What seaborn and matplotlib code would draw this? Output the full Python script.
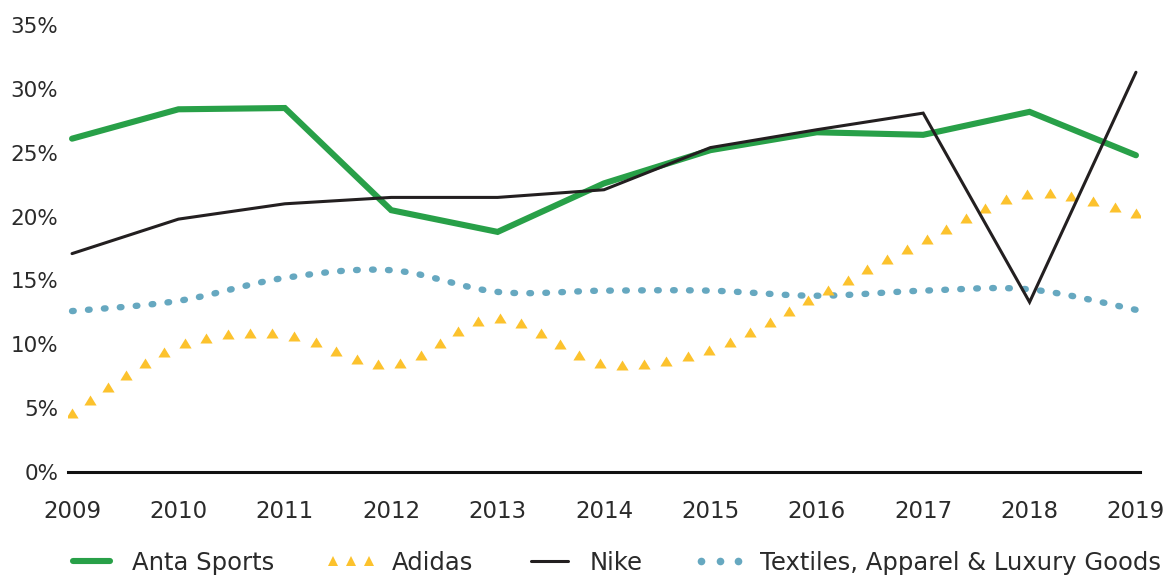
import numpy as np
import pandas as pd
import matplotlib
matplotlib.use("Agg")
import matplotlib.pyplot as plt
import seaborn as sns
from matplotlib.patheffects import AbstractPathEffect
from matplotlib.path import Path
from matplotlib.transforms import Affine2D
from matplotlib.markers import MarkerStyle
from matplotlib.lines import Line2D
from matplotlib.colors import to_rgba

# ---------------- data ----------------
years = [2009, 2010, 2011, 2012, 2013, 2014, 2015, 2016, 2017, 2018, 2019]
anta = [26.1, 28.4, 28.5, 20.5, 18.8, 22.6, 25.2, 26.6, 26.4, 28.2, 24.8]
adidas = [4.6, 9.9, 10.8, 8.4, 12.1, 8.5, 9.6, 13.8, 18.1, 21.8, 20.3]
nike = [17.1, 19.8, 21.0, 21.5, 21.5, 22.1, 25.4, 26.8, 28.1, 13.3, 31.3]
textiles = [12.6, 13.4, 15.2, 15.8, 14.1, 14.2, 14.2, 13.8, 14.2, 14.3, 12.7]
series_names = ["Anta Sports", "Adidas", "Nike", "Textiles, Apparel & Luxury Goods"]
y_ticks = [0, 5, 10, 15, 20, 25, 30, 35]

GREEN = "#28a048"
YELLOW = "#fcc22d"
BLACK = "#231f20"
BLUE = "#66a8c0"
TEXT = "#2a2a2a"


def catmull_rom(pts, n=30):
    P = np.vstack([pts[0], pts, pts[-1]])
    out = []
    t = np.linspace(0, 1, n, endpoint=False)[:, None]
    for i in range(1, len(P) - 2):
        p0, p1, p2, p3 = P[i - 1], P[i], P[i + 1], P[i + 2]
        a = 2 * p1
        b = p2 - p0
        c = 2 * p0 - 5 * p1 + 4 * p2 - p3
        d = -p0 + 3 * p1 - 3 * p2 + p3
        out.append(0.5 * (a + b * t + c * t ** 2 + d * t ** 3))
    out.append(P[-2][None])
    return np.vstack(out)


class SmoothMarkerStroke(AbstractPathEffect):
    """Draws the line as a smoothed curve decorated with markers or round dots."""

    def __init__(self, kind, color, spacing, size, width=None):
        super().__init__()
        self.kind = kind
        self.color = to_rgba(color)
        self.spacing = spacing
        self.size = size
        self.width = width

    def draw_path(self, renderer, gc, tpath, affine, rgbFace=None):
        verts = affine.transform(tpath.vertices)
        curve = catmull_rom(verts)
        gc0 = renderer.new_gc()
        gc0.copy_properties(gc)
        if self.kind == "dots":
            gc0.set_foreground(self.color)
            gc0.set_linewidth(self.size)
            gc0.set_capstyle("round")
            gc0.set_joinstyle("round")
            gc0.set_dashes(0, [self.width, self.spacing - self.width])
            renderer.draw_path(gc0, Path(curve), Affine2D())
        else:
            seg = np.hypot(*np.diff(curve, axis=0).T)
            s = np.concatenate([[0], np.cumsum(seg)])
            step = renderer.points_to_pixels(self.spacing)
            nseg = max(1, int(round(s[-1] / step)))
            samples = np.linspace(0, s[-1], nseg + 1)
            xs = np.interp(samples, s, curve[:, 0])
            ys = np.interp(samples, s, curve[:, 1])
            ms = MarkerStyle("^")
            w = renderer.points_to_pixels(self.size[0])
            h = renderer.points_to_pixels(self.size[1])
            mtrans = ms.get_transform() + Affine2D().scale(w, h)
            gc0.set_foreground(self.color)
            gc0.set_linewidth(0)
            gc0.set_dashes(0, None)
            renderer.draw_markers(gc0, ms.get_path(), mtrans,
                                  Path(np.column_stack([xs, ys])), Affine2D(),
                                  self.color)
        gc0.restore()


sns.set_theme(style="white")
plt.rcParams["font.family"] = ["DejaVu Sans"]

fig = plt.figure(figsize=(11.69, 5.78), dpi=100)
ax = fig.add_axes([68 / 1169, 1 - 472 / 578, (1140 - 68) / 1169, (472 - 25) / 578])

df = pd.DataFrame({"year": years, "anta": anta, "adidas": adidas,
                   "nike": nike, "textiles": textiles})

sns.lineplot(data=df, x="year", y="textiles", ax=ax, color=BLUE, lw=4)
sns.lineplot(data=df, x="year", y="adidas", ax=ax, color=YELLOW, lw=2)
sns.lineplot(data=df, x="year", y="anta", ax=ax, color=GREEN, lw=4.4,
             solid_capstyle="round", solid_joinstyle="miter")
sns.lineplot(data=df, x="year", y="nike", ax=ax, color=BLACK, lw=2.2,
             solid_joinstyle="miter")

lines = ax.get_lines()
lines[0].set_path_effects([SmoothMarkerStroke("dots", BLUE, spacing=11.5, size=4.6, width=1.2)])
lines[1].set_path_effects([SmoothMarkerStroke("tri", YELLOW, spacing=16.0, size=(8.8, 7.2))])

ax.set_xlim(2008.962, 2019.038)
ax.set_ylim(0, 35)
ax.set_xticks(years)
ax.set_xticklabels([str(y) for y in years])
ax.set_yticks(y_ticks)
ax.set_yticklabels([f"{v}%" for v in y_ticks])
ax.set_xlabel("")
ax.set_ylabel("")
for side in ["top", "right", "left"]:
    ax.spines[side].set_visible(False)
ax.spines["bottom"].set_color("#111111")
ax.spines["bottom"].set_linewidth(2.2)
ax.tick_params(axis="both", length=0, colors=TEXT)
ax.tick_params(axis="y", labelsize=15.5, pad=7)
ax.tick_params(axis="x", labelsize=16.5, pad=20)

handles = [
    Line2D([], [], color=GREEN, lw=4.4, solid_capstyle="round"),
    Line2D([], [], ls="none", marker="^", color=YELLOW, markersize=7.5, markeredgewidth=0),
    Line2D([], [], color=BLACK, lw=2.2),
    Line2D([], [], ls="none", marker="o", color=BLUE, markersize=5.5, markeredgewidth=0),
]
fig.legend(handles, series_names, loc="center left", bbox_to_anchor=(66 / 1169, 1 - 563 / 578),
           ncol=4, frameon=False, fontsize=17.5, handlelength=2.1, handletextpad=0.62,
           columnspacing=2.1, numpoints=3, borderpad=0, borderaxespad=0,
           labelcolor=TEXT)

fig.savefig("out.png", dpi=100)
